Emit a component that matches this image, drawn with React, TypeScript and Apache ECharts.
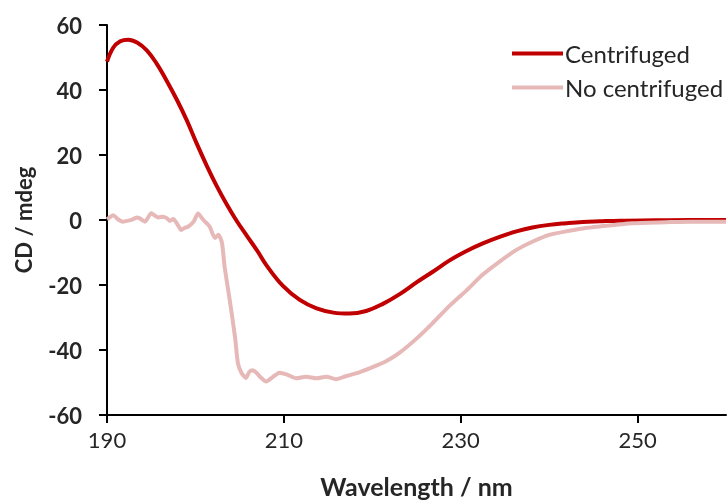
import React, { useEffect, useRef } from "react";
import * as echarts from "echarts";

const centrifugedX = [190, 190.7, 191.5, 192.4, 193.4, 194.5, 195.6, 196.7, 197.9, 199, 200.1, 201.3, 202.4, 203.5, 204.6, 205.8, 207, 208, 209.9, 211.8, 213.7, 215.6, 217.4, 219.3, 221.2, 223.1, 225, 226.8, 228.7, 230.6, 232.5, 234.4, 236.3, 238.1, 240, 241.9, 243.8, 245.7, 248, 252, 256, 260];
const centrifugedY = [48.7, 53, 55, 55.5, 54.6, 52.2, 48.2, 43.1, 37, 30.8, 23.8, 16.6, 10.5, 5, 0, -4.8, -9.5, -13.8, -20.3, -24.6, -27.2, -28.5, -28.8, -28, -25.8, -22.8, -19.2, -16, -12.5, -9.6, -7.2, -5.2, -3.5, -2.3, -1.5, -1, -0.6, -0.4, -0.2, -0.1, 0, 0];

const noCentX = [190, 190.4, 190.7, 191.2, 191.8, 192.4, 192.9, 193.4, 193.7, 194.3, 195, 195.5, 195.8, 196.3, 196.8, 197.1, 197.5, 198, 198.4, 198.8, 199.2, 199.8, 200.3, 200.9, 201.6, 202.2, 202.6, 203, 203.3, 203.7, 204.1, 204.5, 204.8, 205.2, 205.7, 206.1, 206.5, 206.9, 207.3, 208, 208.8, 209.5, 210.3, 211.4, 212.5, 213.7, 214.8, 215.9, 217.1, 218.6, 220.1, 221.6, 223.1, 225, 226.8, 228.7, 230.6, 232.5, 234.4, 236.3, 238.1, 240, 241.9, 243.8, 245.7, 249.4, 253.2, 256, 260];
const noCentY = [0.2, 1, 1.5, 0.3, -0.5, -0.2, 0.2, 0.8, 0.5, -0.5, 2.1, 1.2, 0.8, 1, 0.5, -0.3, 0.3, -1.5, -3.1, -2.4, -2, -0.5, 2, 0, -2, -5.5, -4.5, -7, -14.4, -21.5, -28.7, -36.5, -44, -47, -48.6, -46.7, -46.2, -47, -48.2, -49.7, -48.2, -47, -47.5, -48.7, -48.2, -48.7, -48.2, -49, -48, -46.8, -45.2, -43.4, -40.8, -36.5, -31.8, -26.5, -21.8, -16.8, -12.8, -9.2, -6.7, -4.6, -3.5, -2.6, -2, -1, -0.7, -0.5, -0.5];

const xTicks = [190, 210, 230, 250];
const seriesNames = ["Centrifuged", "No centrifuged"];
const colors = ["#C00000", "#E6B9B8"];

const FONT = "Lato";

export default function App() {
  const ref = useRef<HTMLDivElement>(null);
  useEffect(() => {
    if (!ref.current) return;
    const chart = echarts.init(ref.current, null, { renderer: "svg" });
    const pairs = (xs: number[], ys: number[]) => xs.map((x, i) => [x, ys[i]]);
    chart.setOption({
      animation: false,
      grid: { left: 107, right: 1, top: 25, bottom: 87, outerBoundsMode: "none", containLabel: false },
      legend: {
        orient: "vertical",
        left: 507,
        top: 36,
        itemWidth: 51,
        itemHeight: 4,
        itemGap: 9,
        icon: "rect",
        data: seriesNames,
        textStyle: { fontFamily: FONT, fontSize: 24, color: "#262626", lineHeight: 25, padding: [0, 0, 0, -3] },
      },
      xAxis: {
        type: "value",
        min: 190,
        max: 260,
        name: "Wavelength / nm",
        nameLocation: "middle",
        nameGap: 58,
        nameTextStyle: { fontFamily: FONT, fontSize: 25, fontWeight: "bold", color: "#262626" },
        splitLine: { show: false },
        axisLine: { onZero: false, lineStyle: { color: "#000", width: 2 } },
        axisTick: { show: true, customValues: xTicks, length: 8, lineStyle: { color: "#000", width: 2 } },
        axisLabel: { customValues: xTicks, fontFamily: FONT, fontSize: 22, color: "#262626", margin: 13 },
      },
      yAxis: {
        type: "value",
        min: -60,
        max: 60,
        interval: 20,
        name: "CD / mdeg",
        nameLocation: "middle",
        nameGap: 73,
        nameTextStyle: { fontFamily: FONT, fontSize: 22, fontWeight: "bold", color: "#262626" },
        splitLine: { show: false },
        axisLine: { show: true, onZero: false, lineStyle: { color: "#000", width: 2 } },
        axisTick: { show: true, length: 8, lineStyle: { color: "#000", width: 2 } },
        axisLabel: { fontFamily: FONT, fontSize: 22, fontWeight: "bold", color: "#262626", margin: 25 },
      },
      series: [
        {
          name: seriesNames[0],
          type: "line",
          data: pairs(centrifugedX, centrifugedY),
          showSymbol: false,
          smooth: 0.4,
          lineStyle: { color: colors[0], width: 4 },
          itemStyle: { color: colors[0] },
        },
        {
          name: seriesNames[1],
          type: "line",
          data: pairs(noCentX, noCentY),
          showSymbol: false,
          smooth: 0.2,
          lineStyle: { color: colors[1], width: 4 },
          itemStyle: { color: colors[1] },
        },
      ],
    });
    return () => chart.dispose();
  }, []);
  return <div ref={ref} style={{ position: "fixed", left: 0, top: 0, width: 727, height: 502 }} />;
}
